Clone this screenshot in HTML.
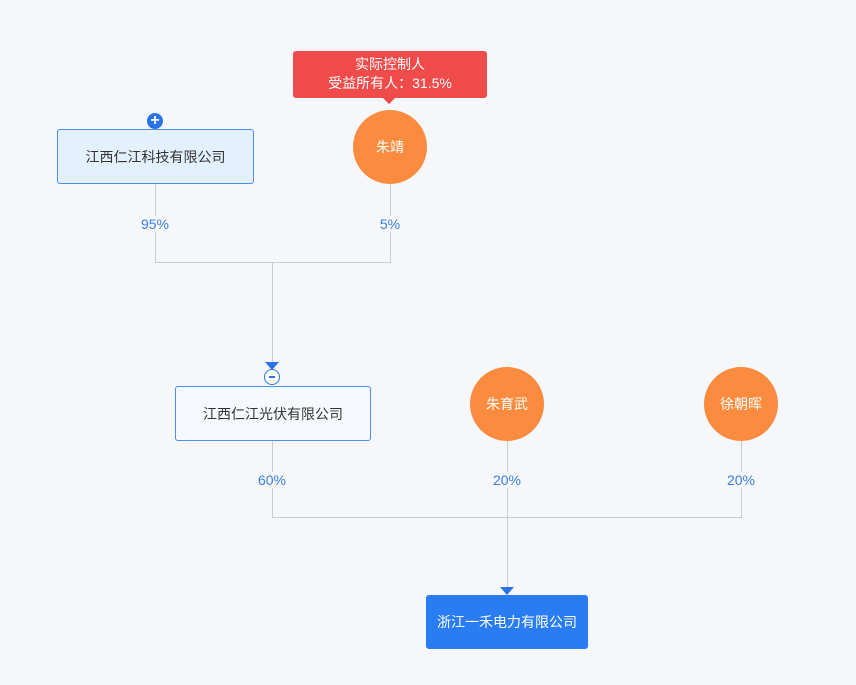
<!DOCTYPE html>
<html><head><meta charset="utf-8"><style>
body{margin:0;width:856px;height:685px;background:#f5f7fb;position:relative;overflow:hidden;font-family:"Liberation Sans","Noto Sans CJK SC",sans-serif;}
.a{position:absolute}
.box{position:absolute;box-sizing:border-box;border:1px solid #4a8ef0;border-radius:3px;display:flex;align-items:center;justify-content:center;font-size:14px;color:#333}
.c{position:absolute;width:74px;height:74px;border-radius:50%;background:#fb8c3f;color:#fff;font-size:14px;display:flex;align-items:center;justify-content:center}
.l{position:absolute;background:#c8ccd3}
.p{position:absolute;color:#3a7ee0;font-size:14px;width:60px;text-align:center;background:#f5f7fb}
</style></head><body>
<!-- lines -->
<div class="l" style="left:155px;top:183px;width:1px;height:80px"></div>
<div class="l" style="left:390px;top:184px;width:1px;height:79px"></div>
<div class="l" style="left:155px;top:262px;width:236px;height:1px"></div>
<div class="l" style="left:272px;top:262px;width:1px;height:102px"></div>
<div class="l" style="left:272px;top:440px;width:1px;height:78px"></div>
<div class="l" style="left:741px;top:441px;width:1px;height:77px"></div>
<div class="l" style="left:272px;top:517px;width:470px;height:1px"></div>
<div class="l" style="left:507px;top:441px;width:1px;height:148px"></div>
<div class="p" style="left:125px;top:216px">95%</div>
<div class="p" style="left:360px;top:216px">5%</div>
<div class="p" style="left:242px;top:472px">60%</div>
<div class="p" style="left:477px;top:472px">20%</div>
<div class="p" style="left:711px;top:472px">20%</div>
<!-- arrows -->
<div class="a" style="left:265px;top:362px;width:0;height:0;border-left:7px solid transparent;border-right:7px solid transparent;border-top:8px solid #2a72e8"></div>
<div class="a" style="left:500px;top:587px;width:0;height:0;border-left:7px solid transparent;border-right:7px solid transparent;border-top:8px solid #2a72e8"></div>
<!-- boxes -->
<div class="box" style="left:57px;top:129px;width:197px;height:55px;background:#e3f0fd">江西仁江科技有限公司</div>
<div class="a" style="left:147px;top:113px;width:16px;height:16px;border-radius:50%;background:#2a72e8;color:#fff;font-size:16px;line-height:16px;text-align:center;font-weight:bold">+</div>
<div class="box" style="left:175px;top:386px;width:196px;height:55px;background:#f6f9fe">江西仁江光伏有限公司</div>
<div class="a" style="left:264px;top:369px;width:14px;height:14px;border-radius:50%;border:1px solid #2a72e8;background:#fff;"><div class="a" style="left:4px;top:6px;width:6px;height:1.5px;background:#2a72e8"></div></div>
<div class="box" style="left:426px;top:595px;width:162px;height:54px;background:#2a7cf2;border-color:#2a7cf2;color:#fff">浙江一禾电力有限公司</div>
<!-- circles -->
<div class="c" style="left:353px;top:110px">朱靖</div>
<div class="c" style="left:470px;top:367px">朱育武</div>
<div class="c" style="left:704px;top:367px">徐朝晖</div>
<!-- tooltip -->
<div class="a" style="left:293px;top:51px;width:194px;height:47px;background:#ef4b4b;border-radius:3px;color:#fff;font-size:14px;text-align:center;line-height:19px;padding-top:4px;box-sizing:border-box">实际控制人<br>受益所有人：31.5%</div>
<div class="a" style="left:383px;top:98px;width:0;height:0;border-left:6px solid transparent;border-right:6px solid transparent;border-top:6px solid #ef4b4b"></div>
</body></html>
